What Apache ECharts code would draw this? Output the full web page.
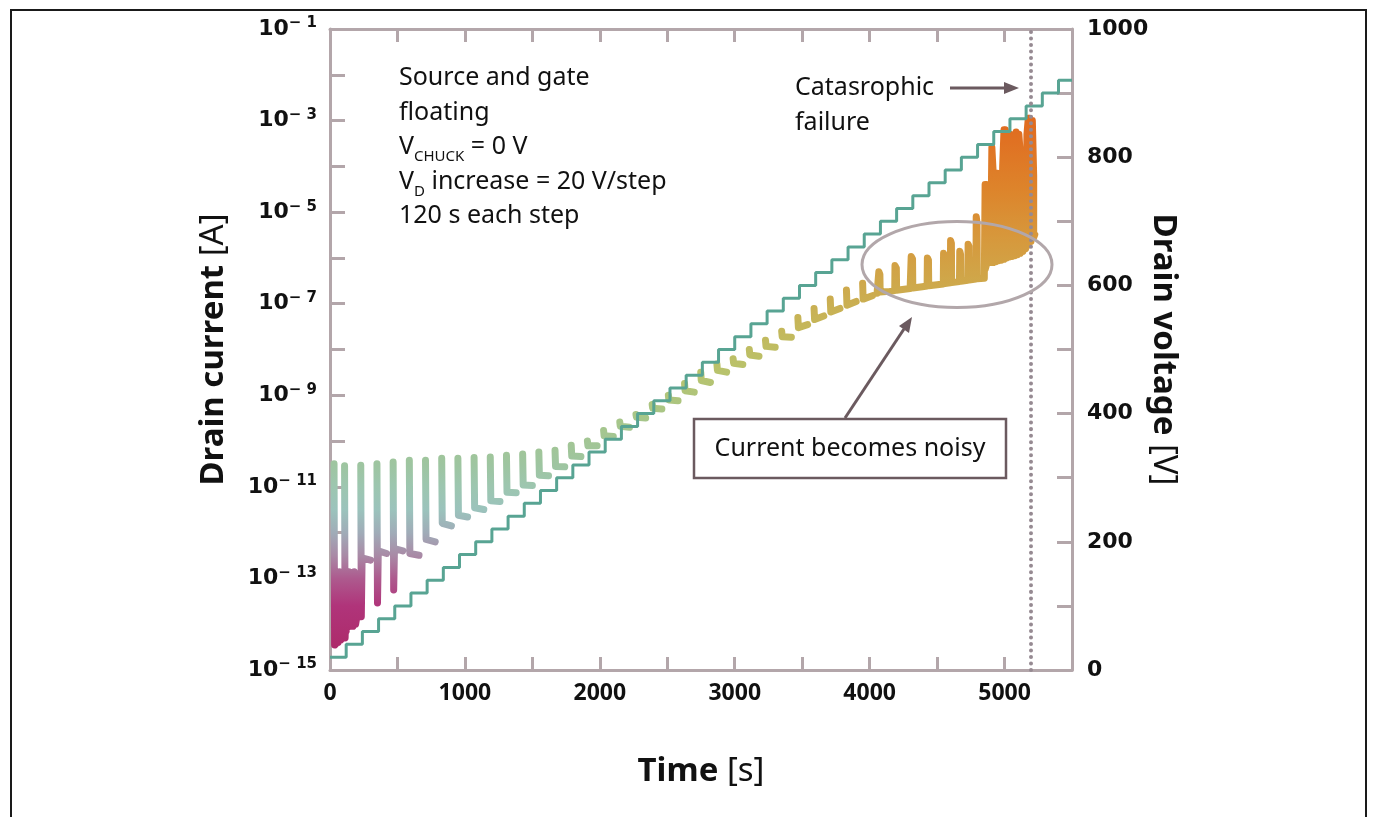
<!DOCTYPE html>
<html>
<head>
<meta charset="utf-8">
<script src="https://cdn.jsdelivr.net/npm/echarts@6/dist/echarts.min.js"></script>
<style>
  html, body { margin: 0; padding: 0; background: #fff; }
  #chart { width: 1373px; height: 817px; }
</style>
</head>
<body>
<div id="chart"></div>
<script>
// drain voltage: level held from each step time
const voltT = [0, 120, 240, 360, 480, 600, 720, 840, 960, 1080, 1200, 1320, 1440, 1560, 1680, 1800, 1920, 2040, 2160, 2280, 2400, 2520, 2640, 2760, 2880, 3000, 3120, 3240, 3360, 3480, 3600, 3720, 3840, 3960, 4080, 4200, 4320, 4440, 4560, 4680, 4800, 4920, 5040, 5160, 5280, 5400];
const voltV = [20, 40, 60, 80, 100, 120, 140, 160, 180, 200, 220, 240, 260, 280, 300, 320, 340, 360, 380, 400, 420, 440, 460, 480, 500, 520, 540, 560, 580, 600, 620, 640, 660, 680, 700, 720, 740, 760, 780, 800, 820, 840, 860, 880, 900, 920];
const timeEnd = 5500;
const failureT = 5195;

// drain current [A], one entry per regular step:
// jump time, peak, bottom of the drop, foot level, end of foot
const stepT = [30, 108, 228, 348, 468, 588, 708, 828, 948, 1068, 1188, 1308, 1428, 1548, 1668, 1788, 1908, 2028, 2148, 2268, 2388, 2508, 2628, 2748, 2868, 2988, 3108, 3228, 3348, 3468, 3588, 3708, 3828, 3948];
const peakI = [3.2e-11, 2.9e-11, 2.95e-11, 3.2e-11, 3.5e-11, 3.8e-11, 3.8e-11, 4.2e-11, 4.2e-11, 4.4e-11, 4.5e-11, 4.9e-11, 5.2e-11, 5.8e-11, 6.3e-11, 8.1e-11, 1.0e-10, 1.7e-10, 2.6e-10, 3.8e-10, 6.3e-10, 1.0e-9, 1.8e-9, 3.2e-9, 4.8e-9, 6.3e-9, 1.0e-8, 1.6e-8, 2.5e-8, 5.0e-8, 7.9e-8, 1.26e-7, 2.0e-7, 2.8e-7];
const dipI = [3.5e-15, 5.0e-15, 1.45e-14, 2.9e-14, 5.6e-14, 3.5e-13, 7.1e-13, 1.6e-12, 2.4e-12, 3.5e-12, 5.0e-12, 7.6e-12, 1.1e-11, 1.8e-11, 2.8e-11, 4.7e-11, 7.9e-11, 1.3e-10, 2.1e-10, 3.3e-10, 5.2e-10, 7.9e-10, 1.26e-9, 2.1e-9, 3.5e-9, 5.0e-9, 7.6e-9, 1.17e-8, 1.9e-8, 3.0e-8, 4.5e-8, 6.6e-8, 9.3e-8, 1.26e-7];
const footI = [2.0e-14, 2.0e-14, 2.8e-13, 4.0e-13, 4.5e-13, 3.5e-13, 7.1e-13, 1.6e-12, 2.4e-12, 3.5e-12, 5.0e-12, 7.6e-12, 1.1e-11, 1.8e-11, 2.8e-11, 4.7e-11, 7.9e-11, 1.3e-10, 2.1e-10, 3.3e-10, 5.2e-10, 7.9e-10, 1.26e-9, 2.1e-9, 3.5e-9, 5.0e-9, 7.6e-9, 1.17e-8, 1.9e-8, 3.0e-8, 4.5e-8, 6.6e-8, 9.3e-8, 1.26e-7];
const endI = [2.0e-14, 2.0e-14, 2.5e-13, 3.5e-13, 4.0e-13, 3.2e-13, 6.3e-13, 1.4e-12, 2.2e-12, 3.2e-12, 4.8e-12, 7.4e-12, 1.07e-11, 1.74e-11, 2.75e-11, 4.6e-11, 7.9e-11, 1.26e-10, 2.0e-10, 3.2e-10, 5.0e-10, 7.6e-10, 1.17e-9, 1.9e-9, 3.2e-9, 4.7e-9, 7.1e-9, 1.12e-8, 1.86e-8, 3.5e-8, 5.4e-8, 7.9e-8, 1.12e-7, 1.5e-7];

// noise floor during the first two steps (upper / lower edge)
const floorT = [40, 50, 60, 70, 80, 90, 100, 120, 130, 140, 150, 160, 170, 180, 190, 200];
const floorHi = [1.2e-13, 1.3e-13, 1.3e-13, 1.4e-13, 1.3e-13, 1.3e-13, 1.4e-13, 1.3e-13, 1.3e-13, 1.4e-13, 1.3e-13, 1.3e-13, 1.3e-13, 1.4e-13, 1.3e-13, 1.2e-13];
const floorLo = [3.6e-15, 3.8e-15, 4.0e-15, 4.2e-15, 4.5e-15, 5.0e-15, 5.5e-15, 7.0e-15, 8.5e-15, 9.0e-15, 9.0e-15, 9.0e-15, 9.0e-15, 9.0e-15, 1.0e-14, 1.5e-14];

// noisy stretch (inside the ellipse)
const noisyT = [4055, 4066, 4068, 4076, 4078, 4150, 4186, 4188, 4198, 4200, 4300, 4306, 4308, 4318, 4320, 4390, 4426, 4428, 4436, 4438, 4500, 4546, 4548, 4556, 4558, 4598, 4600, 4606, 4608, 4666, 4668, 4674, 4676, 4728, 4730, 4736, 4738, 4788, 4790, 4796, 4798, 4850];
const noisyI = [1.7e-7, 1.74e-7, 5.0e-7, 4.4e-7, 1.8e-7, 1.86e-7, 1.94e-7, 6.8e-7, 6.0e-7, 1.96e-7, 2.14e-7, 2.16e-7, 1.07e-6, 9.5e-7, 2.2e-7, 2.35e-7, 2.44e-7, 1.0e-6, 9.0e-7, 2.46e-7, 2.6e-7, 2.7e-7, 1.26e-6, 1.1e-6, 2.75e-7, 2.85e-7, 2.4e-6, 2.1e-6, 2.9e-7, 3.05e-7, 1.4e-6, 1.2e-6, 3.1e-7, 3.25e-7, 2.0e-6, 1.8e-6, 3.3e-7, 3.45e-7, 7.9e-6, 6.0e-6, 3.5e-7, 3.6e-7];

// last steps before failure (upper / lower edge)
const burstT = [4856, 4866, 4876, 4886, 4896, 4906, 4916, 4926, 4936, 4946, 4956, 4966, 4976, 4986, 4996, 5006, 5016, 5026, 5036, 5046, 5056, 5066, 5076, 5086, 5096, 5106, 5116, 5126, 5136, 5146, 5156, 5166, 5176, 5186, 5196, 5206, 5216, 5224];
const burstHi = [4.0e-5, 4.0e-5, 4.0e-5, 4.0e-5, 4.0e-5, 2.6e-4, 7.1e-5, 7.1e-5, 7.1e-5, 7.1e-5, 7.1e-5, 7.1e-5, 7.6e-5, 1.0e-4, 6.3e-4, 6.3e-4, 6.0e-4, 5.2e-4, 5.2e-4, 5.0e-4, 4.0e-4, 3.7e-4, 5.0e-4, 5.6e-4, 5.6e-4, 5.0e-4, 2.0e-4, 1.12e-4, 1.0e-4, 1.0e-4, 1.26e-4, 5.0e-4, 1.12e-3, 1.12e-3, 1.05e-3, 1.0e-3, 6.3e-5, 3.2e-6];
const burstLo = [5.6e-7, 7.1e-7, 7.9e-7, 7.9e-7, 7.9e-7, 7.9e-7, 7.9e-7, 8.3e-7, 8.3e-7, 8.7e-7, 8.7e-7, 8.9e-7, 8.9e-7, 9.1e-7, 9.3e-7, 9.5e-7, 1.0e-6, 1.0e-6, 1.05e-6, 1.05e-6, 1.07e-6, 1.1e-6, 1.12e-6, 1.15e-6, 1.17e-6, 1.2e-6, 1.26e-6, 1.32e-6, 1.38e-6, 1.45e-6, 1.58e-6, 1.74e-6, 1.9e-6, 2.1e-6, 2.3e-6, 2.5e-6, 2.8e-6, 3.2e-6];

// time offsets inside a step (s)
const dipDt = 4, footDt = 10, endDt = 72;

const axisColor = '#b3a6aa';
const ink = '#111111';
const noteColor = '#6b5a5f';

// colour of the current trace by decade
const traceColors = [
  [-14.5, '#ad2b6b'], [-13.6, '#b0347a'], [-13.0, '#ad5a8e'], [-12.5, '#a98aa6'],
  [-12.0, '#a0acb8'], [-11.5, '#9bc3bc'], [-11.0, '#9dc6b0'], [-10.5, '#9ec5a0'],
  [-9.5, '#a7c689'], [-8.5, '#b8c36c'], [-7.5, '#c5b75a'], [-6.5, '#cfa74a'],
  [-5.5, '#d7973b'], [-4.5, '#dd842b'], [-3.5, '#e07223'], [-2.7, '#e0671d']
];

const lg = v => Math.log10(v);

function zigzag(ts, hi, lo, out) {
  ts.forEach((t, i) => {
    const pair = [[t, lg(hi[i])], [t, lg(lo[i])]];
    if (i % 2) pair.reverse();
    out.push(pair[0], pair[1]);
  });
}

const currentData = [];
stepT.forEach((t, k) => {
  currentData.push(
    [t, lg(peakI[k])],
    [t + dipDt, lg(dipI[k])],
    [t + footDt, lg(footI[k])],
    [t + endDt, lg(endI[k])],
    [t, null]
  );
});
zigzag(floorT, floorHi, floorLo, currentData);
currentData.push([0, null]);
noisyT.forEach((t, i) => currentData.push([t, lg(noisyI[i])]));
zigzag(burstT, burstHi, burstLo, currentData);

const voltData = voltT.map((t, i) => [t, voltV[i]]);
voltData.push([timeEnd, voltV[voltV.length - 1]]);

const chart = echarts.init(document.getElementById('chart'), null, { renderer: 'canvas' });

const tickRich = {
  b: { fontFamily: 'DejaVu Sans', fontWeight: 'bold', fontSize: 22, lineHeight: 26, color: ink },
  s: { fontFamily: 'DejaVu Sans', fontWeight: 'bold', fontSize: 15, lineHeight: 17, verticalAlign: 'top', color: ink }
};
const nameRich = {
  b: { fontFamily: 'Noto Sans', fontWeight: 'bold', fontSize: 33, color: ink },
  r: { fontFamily: 'Noto Sans', fontWeight: 'normal', fontSize: 33, color: ink }
};
const lineCommon = {
  axisLine: { show: true, onZero: false, lineStyle: { color: axisColor, width: 3 } },
  splitLine: { show: false },
  nameMoveOverlap: false
};

var option = {
  animation: false,
  backgroundColor: '#ffffff',
  grid: { left: 330, right: 301, top: 29, bottom: 147, containLabel: false, outerBoundsMode: 'none' },
  xAxis: [{
    type: 'value', min: 0, max: timeEnd, interval: 500,
    name: '{b|Time} {r|[s]}', nameLocation: 'middle', nameGap: 85,
    nameTextStyle: { fontFamily: 'Noto Sans', fontSize: 33, color: ink, rich: nameRich },
    ...lineCommon,
    axisTick: { show: true, inside: true, length: 13, lineStyle: { color: axisColor, width: 3 } },
    axisLabel: {
      margin: 12, color: ink, fontFamily: 'Noto Sans', fontWeight: 'bold', fontSize: 23,
      formatter: v => (v % 1000 === 0 ? String(v) : '')
    }
  }, {
    type: 'value', position: 'top', min: 0, max: timeEnd, interval: 500,
    ...lineCommon,
    axisTick: { show: true, inside: true, length: 13, lineStyle: { color: axisColor, width: 3 } },
    axisLabel: { show: false }
  }],
  yAxis: [{
    type: 'value', min: -15, max: -1, interval: 1,
    name: '{b|Drain current} {r|[A]}', nameLocation: 'middle', nameGap: 100,
    nameTextStyle: { fontFamily: 'Noto Sans', fontSize: 33, color: ink, rich: nameRich },
    ...lineCommon,
    axisTick: { show: true, inside: true, length: 15, lineStyle: { color: axisColor, width: 3 } },
    axisLabel: {
      margin: 13,
      formatter: e => {
        const n = Math.round(e);
        return n % 2 ? '{b|10}{s|\u2212 ' + Math.abs(n) + '}' : '';
      },
      rich: tickRich
    }
  }, {
    type: 'value', position: 'right', min: 0, max: 1000, interval: 100,
    name: '{b|Drain voltage} {r|[V]}', nameLocation: 'middle', nameGap: 75, nameRotate: -90,
    nameTextStyle: { fontFamily: 'Noto Sans', fontSize: 33, color: ink, rich: nameRich },
    ...lineCommon,
    axisTick: { show: true, inside: true, length: 15, lineStyle: { color: axisColor, width: 3 } },
    axisLabel: {
      margin: 15, color: ink, fontFamily: 'DejaVu Sans', fontWeight: 'bold', fontSize: 22,
      formatter: v => (v % 200 === 0 ? String(v) : '')
    }
  }],
  series: [{
    id: 'current',
    type: 'line',
    xAxisIndex: 0, yAxisIndex: 0,
    data: currentData,
    showSymbol: false, symbol: 'none',
    connectNulls: false,
    lineStyle: { width: 7, cap: 'round', join: 'round', color: '#c5b75a' },
    z: 2
  }, {
    id: 'voltage',
    type: 'line',
    xAxisIndex: 0, yAxisIndex: 1,
    data: voltData,
    step: 'end',
    showSymbol: false, symbol: 'none',
    lineStyle: { width: 3, color: '#58a493' },
    z: 3,
    markLine: {
      silent: true, symbol: ['none', 'none'], label: { show: false },
      lineStyle: { color: '#968a92', width: 4, type: [0.01, 6.5], cap: 'round' },
      data: [{ xAxis: failureT }]
    }
  }],
  graphic: [
    { type: 'rect', silent: true, z: 0, shape: { x: 11, y: 10, width: 1355, height: 840 },
      style: { fill: 'none', stroke: '#1a1a1a', lineWidth: 2 } },
    { type: 'text', z: 100, x: 399, y: 61,
      style: {
        text: 'Source and gate\nfloating\nV{sub|CHUCK} = 0 V\nV{sub|D} increase = 20 V/step\n120 s each step',
        fontFamily: 'Noto Sans', fontSize: 25, lineHeight: 34.5, fill: ink, verticalAlign: 'top',
        rich: { sub: { fontFamily: 'Noto Sans', fontSize: 15, lineHeight: 20, verticalAlign: 'bottom', fill: ink } }
      } },
    { type: 'text', z: 100, x: 795, y: 70,
      style: { text: 'Catasrophic\nfailure', fontFamily: 'Noto Sans', fontSize: 25, lineHeight: 35, fill: ink, verticalAlign: 'top' } },
    { type: 'line', z: 100, shape: { x1: 950, y1: 88, x2: 1006, y2: 88 },
      style: { stroke: noteColor, lineWidth: 3 } },
    { type: 'polygon', z: 100, shape: { points: [[1019, 88], [1004, 82], [1004, 94]] },
      style: { fill: noteColor } },
    { type: 'ellipse', z: 100, shape: { cx: 957, cy: 264.5, rx: 95, ry: 43 },
      style: { fill: 'none', stroke: '#b2a7aa', lineWidth: 3 } },
    { type: 'rect', z: 100, shape: { x: 694, y: 419, width: 312, height: 59 },
      style: { fill: 'none', stroke: noteColor, lineWidth: 2.5 } },
    { type: 'text', z: 100, x: 850, y: 449,
      style: { text: 'Current becomes noisy', fontFamily: 'Noto Sans', fontSize: 25, fill: ink, align: 'center', verticalAlign: 'middle' } },
    { type: 'line', z: 100, shape: { x1: 845, y1: 418, x2: 904, y2: 329 },
      style: { stroke: noteColor, lineWidth: 3 } },
    { type: 'polygon', z: 100, shape: { points: [[912, 317], [909, 333], [899, 326]] },
      style: { fill: noteColor } }
  ]
};

chart.setOption(option);

// colour the trace by value: a vertical gradient laid on the y axis pixels
const lowLg = traceColors[0][0];
const highLg = traceColors[traceColors.length - 1][0];
const yLow = chart.convertToPixel({ yAxisIndex: 0 }, lowLg);
const yHigh = chart.convertToPixel({ yAxisIndex: 0 }, highLg);
const stops = traceColors.map(([v, c]) => ({ offset: (v - lowLg) / (highLg - lowLg), color: c }));
chart.setOption({
  series: [{ id: 'current', lineStyle: { color: new echarts.graphic.LinearGradient(0, yLow, 0, yHigh, stops, true) } }]
});
</script>
</body>
</html>
